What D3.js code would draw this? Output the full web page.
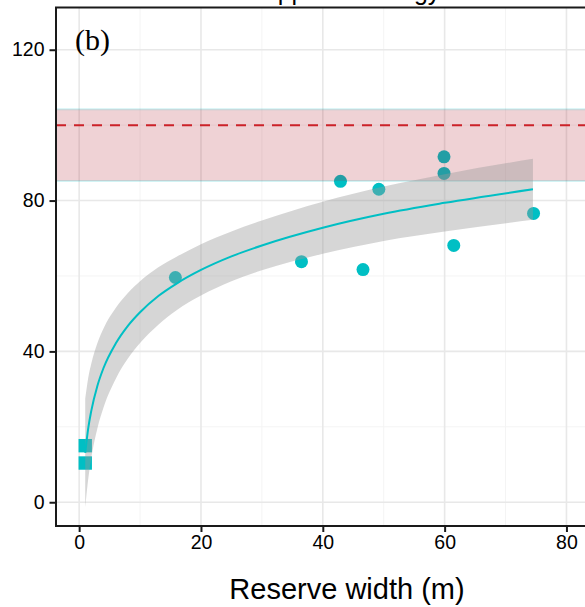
<!DOCTYPE html>
<html>
<head>
<meta charset="utf-8">
<script src="https://cdn.jsdelivr.net/npm/d3@7"></script>
<style>
  body { margin: 0; background: #fff; }
  text { font-family: "Liberation Sans", Arial, sans-serif; }
</style>
</head>
<body>
<div class="main"></div>
<script>
// observed richness vs reserve width, panel (b)
var circleX = [15.8, 36.5, 42.9, 46.6, 49.2, 59.9, 59.9, 61.5, 74.6];
var circleY = [59.6, 63.8, 85.1, 61.7, 83.0, 87.2, 91.6, 68.1, 76.6];
var squareX = [1, 1];
var squareY = [15.0, 10.4];

// fitted log curve + confidence ribbon
var fitX    = [1, 1.5, 2, 3, 4, 6, 8, 10, 13, 16, 20, 25, 30, 40, 50, 60, 74.5];
var fitY    = [13.1, 19.7, 24.3, 30.9, 35.6, 42.1, 46.8, 50.4, 54.7, 58.0, 61.6, 65.2, 68.1, 72.8, 76.5, 79.4, 83.0];
var fitLow  = [-1.3, 6.3, 11.8, 19.6, 25.1, 32.7, 38.1, 42.2, 47.1, 50.9, 54.8, 58.6, 61.5, 65.9, 69.3, 71.8, 74.9];
var fitHigh = [27.5, 33.1, 36.8, 42.2, 46.1, 51.5, 55.5, 58.6, 62.3, 65.1, 68.4, 71.8, 74.7, 79.7, 83.7, 87.0, 91.1];

// reference (forest) level
var refMean = 100, refLow = 85.2, refHigh = 104.2;

var xTicks = [0, 20, 40, 60, 80];
var xMinor = [10, 30, 50, 70];
var yTicks = [0, 40, 80, 120];
var yMinor = [20, 60, 100];

var W = 585, H = 607;
var pLeft = 56, pTop = 7.5, pBottom = 526, pRight = 603;
var teal = "#00BFC4";

var svg = d3.select(".main")
.append("svg")
.attr("width", W)
.attr("height", H);

var x = d3.scaleLinear().domain([-3.8, 86]).range([pLeft, pRight]);
var y = d3.scaleLinear().domain([-6.3, 131.2]).range([pBottom, pTop]);

svg.append("defs").append("clipPath")
.attr("id", "panel")
.append("rect")
.attr("x", pLeft).attr("y", pTop)
.attr("width", pRight - pLeft).attr("height", pBottom - pTop);

// title peeking in at the top edge
svg.append("text")
.attr("x", 293)
.attr("y", 0)
.attr("text-anchor", "middle")
.style("font-size", "25px")
.style("fill", "#000")
.text("Journal of Applied Ecology");

var g = svg.append("g").attr("clip-path", "url(#panel)");

// grid
g.selectAll(".xminor").data(xMinor).enter().append("line")
.attr("x1", x).attr("x2", x).attr("y1", pTop).attr("y2", pBottom)
.style("stroke", "#f4f4f4").style("stroke-width", 1);
g.selectAll(".yminor").data(yMinor).enter().append("line")
.attr("y1", y).attr("y2", y).attr("x1", pLeft).attr("x2", pRight)
.style("stroke", "#f4f4f4").style("stroke-width", 1);
g.selectAll(".xmajor").data(xTicks).enter().append("line")
.attr("x1", x).attr("x2", x).attr("y1", pTop).attr("y2", pBottom)
.style("stroke", "#e8e8e8").style("stroke-width", 1.6);
g.selectAll(".ymajor").data(yTicks).enter().append("line")
.attr("y1", y).attr("y2", y).attr("x1", pLeft).attr("x2", pRight)
.style("stroke", "#e8e8e8").style("stroke-width", 1.6);

// points (drawn under the ribbons)
g.selectAll(".pt").data(d3.zip(circleX, circleY)).enter().append("circle")
.attr("cx", function(d) { return x(d[0]); })
.attr("cy", function(d) { return y(d[1]); })
.attr("r", 6.5)
.style("fill", teal);

g.selectAll(".sq").data(d3.zip(squareX, squareY)).enter().append("rect")
.attr("x", function(d) { return x(d[0]) - 6.7; })
.attr("y", function(d) { return y(d[1]) - 6.7; })
.attr("width", 13.4).attr("height", 13.4)
.style("fill", teal);

// reference band
g.append("rect")
.attr("x", pLeft).attr("width", pRight - pLeft)
.attr("y", y(refHigh)).attr("height", y(refLow) - y(refHigh))
.style("fill", "#af1e2d").style("fill-opacity", 0.2);
[refLow, refHigh].forEach(function(v) {
  g.append("line")
  .attr("x1", pLeft).attr("x2", pRight).attr("y1", y(v)).attr("y2", y(v))
  .style("stroke", teal).style("stroke-opacity", 0.18).style("stroke-width", 2);
});

// fit ribbon
var fit = fitX.map(function(d, i) { return {x: d, y: fitY[i], lo: fitLow[i], hi: fitHigh[i]}; });
var area = d3.area()
.x(function(d) { return x(d.x); })
.y0(function(d) { return y(d.lo); })
.y1(function(d) { return y(d.hi); })
.curve(d3.curveMonotoneX);
g.append("path")
.attr("d", area(fit))
.style("fill", "#999999").style("fill-opacity", 0.4);

var line = d3.line()
.x(function(d) { return x(d.x); })
.y(function(d) { return y(d.y); })
.curve(d3.curveMonotoneX);
g.append("path")
.attr("d", line(fit))
.style("fill", "none").style("stroke", teal).style("stroke-width", 2);

// reference mean
g.append("line")
.attr("x1", pLeft).attr("x2", pRight).attr("y1", y(refMean)).attr("y2", y(refMean))
.style("stroke", "#cc2229").style("stroke-width", 2)
.style("stroke-dasharray", "10,8");

// panel border
svg.append("rect")
.attr("x", pLeft).attr("y", pTop)
.attr("width", pRight - pLeft).attr("height", pBottom - pTop)
.style("fill", "none").style("stroke", "#1a1a1a").style("stroke-width", 2);

// axes
var xAxis = svg.append("g")
.attr("transform", "translate(0," + pBottom + ")")
.call(d3.axisBottom(x).tickValues(xTicks).tickSize(6).tickPadding(3).tickFormat(d3.format("d")));
var yAxis = svg.append("g")
.attr("transform", "translate(" + pLeft + ",0)")
.call(d3.axisLeft(y).tickValues(yTicks).tickSize(6.5).tickPadding(5).tickFormat(d3.format("d")));
[xAxis, yAxis].forEach(function(a) {
  a.attr("font-size", null).attr("font-family", null);
  a.select(".domain").remove();
  a.selectAll(".tick line").style("stroke", "#1a1a1a").style("stroke-width", 2);
  a.selectAll(".tick text")
  .style("font-size", "19.5px")
  .style("fill", "#000");
});

// panel tag
svg.append("text")
.attr("x", 75)
.attr("y", 50)
.style("font-family", "Liberation Serif, Times New Roman, serif")
.style("font-size", "30px")
.style("fill", "#000")
.text("(b)");

// x axis title
svg.append("text")
.attr("x", 347)
.attr("y", 599)
.attr("text-anchor", "middle")
.style("font-size", "29px")
.style("fill", "#000")
.text("Reserve width (m)");
</script>
</body>
</html>
